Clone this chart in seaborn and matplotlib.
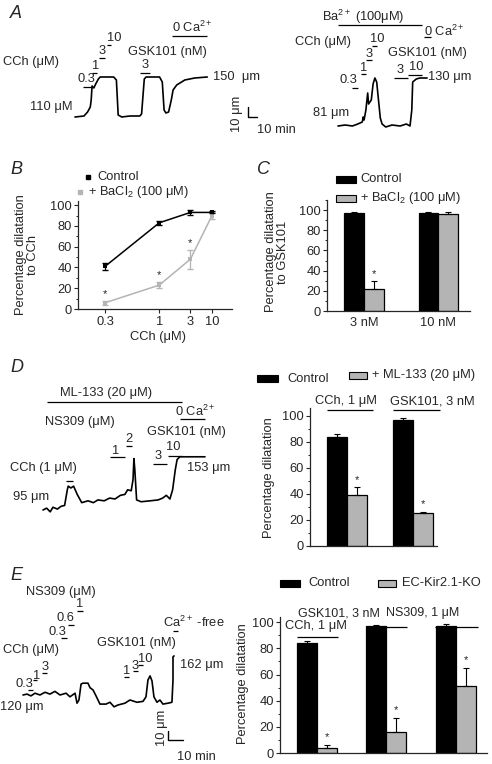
import numpy as np
import pandas as pd
import seaborn as sns
import matplotlib.pyplot as plt
from matplotlib.patches import Rectangle
from matplotlib.ticker import MultipleLocator, FixedLocator, NullLocator

# ---- diameter traces (time in min, diameter in um) ----
tA1 = [0, 10, 14, 17, 18, 19, 21, 23, 26, 28, 43, 46, 48, 52, 61, 72, 74, 77, 79, 94, 97, 99, 101, 104, 107, 109, 113, 122, 133, 147]
dA1 = [110, 111, 115, 120, 127, 141, 139, 143, 148, 150, 150, 147, 112, 110, 111, 111, 113, 148, 150, 150, 145, 117, 114, 115, 127, 137, 142, 147, 149, 150]

tA2 = [0, 8, 16, 22, 27, 28, 29, 31, 33, 34, 37, 39, 41, 43, 47, 49, 53, 60, 69, 76, 80, 82, 83, 87, 91, 99]
dA2 = [81, 82, 81, 83, 85, 90, 87, 97, 114, 103, 107, 123, 129, 125, 89, 83, 80, 82, 81, 83, 81, 97, 125, 128, 129, 129]

tD = [0, 4, 8, 11, 16, 20, 24, 27, 28, 31, 34, 38, 43, 50, 56, 61, 68, 74, 80, 86, 91, 94, 98, 100, 101, 102, 104, 109, 119, 128, 133, 137, 141, 144, 147, 149, 152, 180]
dD = [95, 97, 93, 98, 96, 99, 100, 117, 121, 119, 121, 112, 103, 105, 103, 106, 105, 108, 107, 111, 112, 117, 116, 128, 151, 139, 106, 104, 105, 106, 108, 111, 107, 117, 139, 150, 153, 153]

tE = [0, 2.7, 5.3, 8, 11.3, 14.7, 18, 21.3, 24.7, 28.7, 31.3, 34.7, 36, 37.3, 38.7, 40, 43.3, 44.7, 46.7, 48.7, 51.3, 55.3, 58, 60.7, 63.3, 68, 71.3, 76, 80, 82, 83.3, 84.7, 86, 87.3, 89.3, 91.3, 93.3, 96.7, 99.3, 100, 100, 100.7]
dE = [120, 121, 119, 122, 120, 123, 121, 124, 120, 122, 118, 122, 111, 114.5, 132, 133, 133, 128, 125.5, 119, 110, 110, 112, 107, 109, 111, 114.5, 112, 113, 118, 136.5, 141, 135.5, 118, 112, 114.5, 110, 111, 112, 136.5, 162, 163]

# ---- B: concentration-response ----
cch_conc = [0.3, 1, 3, 10]
b_ctrl = [41, 83, 93, 93]
b_ctrl_err = [3, 2, 2, 1]
b_ba = [6, 23, 48, 90]
b_ba_err = [2, 3, 9, 3]
b_star = [True, True, True, False]

# ---- C ----
c_groups = ["3 nM", "10 nM"]
c_ctrl = [97, 97]
c_ctrl_err = [1, 1]
c_ba = [22, 96]
c_ba_err = [8, 2]
c_star = [True, False]

# ---- D ----
d_groups = ["CCh, 1 μM", "GSK101, 3 nM"]
d_ctrl = [84, 97]
d_ctrl_err = [2, 1]
d_ml = [39, 25]
d_ml_err = [6, 1]
d_star = [True, True]

# ---- E ----
e_groups = ["CCh, 1 μM", "GSK101, 3 nM", "NS309, 1 μM"]
e_ctrl = [84, 97, 97]
e_ctrl_err = [2, 1, 2]
e_ko = [3.5, 16, 51]
e_ko_err = [3, 11, 14]
e_star = [True, True, True]

GREY = '#b4b4b4'
FS = 9.3

sns.set_style('ticks')
plt.rcParams['font.family'] = ['Liberation Sans', 'DejaVu Sans']
plt.rcParams['mathtext.fontset'] = 'custom'
plt.rcParams['mathtext.rm'] = 'Liberation Sans'
plt.rcParams['mathtext.it'] = 'Liberation Sans:italic'
plt.rcParams['font.size'] = FS

W, H = 492, 764
fig = plt.figure(figsize=(W / 100, H / 100), dpi=100)


def px_axes(x0, y0, x1, y1):
    return fig.add_axes([x0 / W, 1 - y1 / H, (x1 - x0) / W, (y1 - y0) / H])


# overlay in pixel units for labels / application bars
ov = fig.add_axes([0, 0, 1, 1])
ov.set_xlim(0, W)
ov.set_ylim(H, 0)
ov.axis('off')
ov.patch.set_alpha(0)


def txt(x, y, s, ha='left', **kw):
    ov.text(x, y, s, ha=ha, va='center', fontsize=kw.pop('fontsize', FS), **kw)


def bar(x0, x1, y, lw=0.9):
    ov.plot([x0, x1], [y, y], color='black', lw=lw, solid_capstyle='butt')


# panel letters
for s, x, y in [('A', 10, 13), ('B', 10, 169), ('C', 257, 169), ('D', 10, 368), ('E', 10, 575)]:
    txt(x, y, s, fontsize=13, style='italic')


# ---------------- traces ----------------
def trace_ax(box, xlim, ylim, t, d):
    ax = px_axes(*box)
    ax.plot(t, d, color='black', lw=1.2)
    ax.set_xlim(xlim)
    ax.set_ylim(ylim)
    ax.axis('off')
    ax.patch.set_alpha(0)
    return ax


axA1 = trace_ax((0, 0, 300, 170), (-83.3, 250), (57, 227), tA1, dA1)
axA1.plot([192.2, 192.2, 202.2], [120, 110, 110], color='black', lw=1)
axA2 = trace_ax((290, 0, 492, 170), (-53.3, 171.1), (37, 207), tA2, dA2)
axD = trace_ax((0, 380, 250, 560), (-47.8, 230), (40.5, 236.7), tD, dD)
axE = trace_ax((0, 560, 240, 764), (-15.33, 144.67), (44.1, 268.5), tE, dE)
axE.plot([96.7, 96.7, 106.7], [80.5, 70.5, 70.5], color='black', lw=1)

# A left labels
txt(3, 62, 'CCh (μM)')
txt(78, 79, '0.3')
txt(92, 66, '1')
txt(99, 51, '3')
txt(107, 38, '10')
txt(128, 52, 'GSK101 (nM)')
txt(142, 65, '3')
txt(172, 27, '0 Ca$^{2+}$')
txt(30, 107, '110 μM')
txt(213, 77, '150  μm')
for b in [(83, 92, 87), (92, 97, 73), (99, 105, 58), (107, 111, 45), (140, 150, 73), (172, 207, 36)]:
    bar(*b)
ov.text(237, 114, '10 μm', rotation=90, ha='center', va='center', fontsize=FS)
txt(257, 130, '10 min')

# A right labels
txt(363, 17, 'Ba$^{2+}$ (100μM)', ha='center')
bar(338, 422, 25)
txt(424, 31, '0 Ca$^{2+}$')
bar(424, 431, 37)
txt(295, 42, 'CCh (μM)')
txt(377, 39, '10', ha='center')
txt(369, 54, '3', ha='center')
txt(364, 68, '1', ha='center')
txt(340, 80, '0.3')
txt(388, 53, 'GSK101 (nM)')
txt(400, 70, '3', ha='center')
txt(416, 67, '10', ha='center')
txt(428, 77, '130 μm')
txt(313, 113, '81 μm')
for b in [(372, 377, 46), (366, 372, 60), (361, 366, 74), (352, 358, 88), (394, 408, 78), (408, 422, 75)]:
    bar(*b)

# D trace labels
txt(106, 393, 'ML-133 (20 μM)', ha='center')
bar(47, 182, 402)
txt(45, 422, 'NS309 (μM)')
txt(175, 411, '0 Ca$^{2+}$')
bar(180, 205, 419)
txt(147, 432, 'GSK101 (nM)')
txt(116, 451, '1', ha='center')
txt(129, 439, '2', ha='center')
txt(158, 456, '3', ha='center')
txt(173, 447, '10', ha='center')
for b in [(110, 125, 457), (126, 132, 446), (153, 167, 464), (168, 182, 456), (66, 73, 481)]:
    bar(*b)
txt(10, 468, 'CCh (1 μM)')
txt(13, 497, '95 μm')
txt(187, 468, '153 μm')

# E trace labels
txt(26, 592, 'NS309 (μM)')
txt(80, 604, '1', ha='center')
txt(65, 618, '0.6', ha='center')
txt(57, 632, '0.3', ha='center')
for b in [(77, 83, 611), (68, 74, 625), (61, 67, 638)]:
    bar(*b)
txt(3, 650, 'CCh (μM)')
txt(24, 684, '0.3', ha='center')
txt(37, 676, '1', ha='center')
txt(45, 667, '3', ha='center')
for b in [(28, 33, 690), (33, 37, 680), (42, 47, 673)]:
    bar(*b)
txt(97, 643, 'GSK101 (nM)')
txt(127, 671, '1', ha='center')
txt(135, 666, '3', ha='center')
txt(145, 659, '10', ha='center')
for b in [(124, 129, 677), (133, 138, 671), (138, 143, 665)]:
    bar(*b)
txt(163, 622, 'Ca$^{2+}$ -free')
bar(173, 178, 631)
txt(180, 665, '162 μm')
txt(0, 707, '120 μm')
ov.text(162, 728, '10 μm', rotation=90, ha='center', va='center', fontsize=FS)
txt(177, 757, '10 min')


# ---------------- axes styling ----------------
def style_ax(ax, ylim):
    sns.despine(ax=ax)
    ax.set_ylim(ylim)
    ax.set_yticks(range(0, 101, 20))
    ax.yaxis.set_minor_locator(MultipleLocator(10))
    ax.tick_params(axis='y', which='major', length=3, width=0.8, labelsize=FS, pad=1.5)
    ax.tick_params(axis='y', which='minor', length=1.6, width=0.7)
    for sp in ['left', 'bottom']:
        ax.spines[sp].set_linewidth(0.9)
    ax.set_xlabel('')
    ax.set_ylabel('')
    ax.patch.set_alpha(0)


def bar_panel(ax, groups, ctrl, ctrl_err, treat, treat_err, star, width, xlim):
    n = len(groups)
    df = pd.DataFrame({'group': groups * 2,
                       'cond': ['ctrl'] * n + ['treat'] * n,
                       'val': ctrl + treat})
    sns.barplot(data=df, x='group', y='val', hue='cond', palette={'ctrl': 'black', 'treat': GREY},
                edgecolor='black', linewidth=0.9, width=width, errorbar=None, legend=False,
                saturation=1, ax=ax)
    errs = ctrl_err + treat_err
    stars = [False] * n + star
    for p, e, s in zip(ax.patches, errs, stars):
        x = p.get_x() + p.get_width() / 2
        h = p.get_height()
        ax.errorbar(x, h, yerr=[[0], [e]], fmt='none', ecolor='black', elinewidth=0.8,
                    capsize=2, capthick=0.8, zorder=5)
        if s:
            ax.text(x, h + e + 2, '*', ha='center', va='bottom', fontsize=8)
    ax.set_xlim(xlim)


# B
axB = px_axes(78, 201, 232, 309)
axB.set_xscale('function', functions=(lambda x: -np.power(np.maximum(x, 1e-6), -0.4),
                                      lambda y: np.power(np.maximum(-y, 1e-6), -2.5)))
sns.lineplot(x=cch_conc, y=b_ba, color=GREY, marker='s', markersize=3, markeredgewidth=0, lw=1.1, ax=axB)
axB.errorbar(cch_conc, b_ba, yerr=b_ba_err, fmt='none', ecolor=GREY, elinewidth=0.9, capsize=2)
sns.lineplot(x=cch_conc, y=b_ctrl, color='black', marker='s', markersize=3, markeredgewidth=0, lw=1.1, ax=axB)
axB.errorbar(cch_conc, b_ctrl, yerr=b_ctrl_err, fmt='none', ecolor='black', elinewidth=0.9, capsize=2)
for x, m, e, s in zip(cch_conc, b_ba, b_ba_err, b_star):
    if s:
        axB.text(x, m + e + 2, '*', ha='center', va='bottom', fontsize=8)
style_ax(axB, (0, 104))
axB.set_xlim(0.194, 84)
axB.xaxis.set_major_locator(FixedLocator(cch_conc))
axB.xaxis.set_minor_locator(NullLocator())
axB.set_xticklabels(['0.3', '1', '3', '10'])
axB.tick_params(axis='x', length=3, width=0.8, labelsize=FS, pad=2)
ov.plot([88], [177], marker='s', ms=2.5, color='black')
txt(97, 177, 'Control')
ov.plot([80], [192], marker='s', ms=2.5, color=GREY)
txt(88, 192, '+ BaCl$_2$ (100 μM)')
txt(158, 337, 'CCh (μM)', ha='center')
ov.text(27, 255, 'Percentage dilatation\nto CCh', rotation=90, ha='center', va='center',
        multialignment='center', fontsize=FS, linespacing=1.1)

# C
axC = px_axes(327, 200, 470, 311)
bar_panel(axC, c_groups, c_ctrl, c_ctrl_err, c_ba, c_ba_err, c_star, 0.53, (-0.5, 1.43))
style_ax(axC, (0, 110))
axC.tick_params(axis='x', length=0, labelsize=FS, pad=4)
ov.text(277, 252, 'Percentage dilatation\nto GSK101', rotation=90, ha='center', va='center',
        multialignment='center', fontsize=FS, linespacing=1.1)
ov.add_patch(Rectangle((336, 176), 20, 7, facecolor='black', edgecolor='black', lw=0.8))
ov.add_patch(Rectangle((336, 195), 20, 7, facecolor=GREY, edgecolor='black', lw=0.8))
txt(360, 179, 'Control')
txt(360, 198, '+ BaCl$_2$ (100 μM)')

# D
axD2 = px_axes(310, 408, 437, 546)
bar_panel(axD2, d_groups, d_ctrl, d_ctrl_err, d_ml, d_ml_err, d_star, 0.6, (-0.56, 1.36))
style_ax(axD2, (0, 106))
axD2.set_xticks([])
ov.text(269, 478, 'Percentage dilatation', rotation=90, ha='center', va='center', fontsize=FS)
ov.add_patch(Rectangle((257, 375), 21, 7, facecolor='black', edgecolor='black', lw=0.8))
ov.add_patch(Rectangle((349, 372), 18, 7, facecolor=GREY, edgecolor='black', lw=0.8))
txt(287, 379, 'Control')
txt(372, 375, '+ ML-133 (20 μM)')
txt(315, 401, d_groups[0])
bar(327, 373, 410)
txt(390, 401, d_groups[1])
bar(393, 440, 410)

# E
axE2 = px_axes(280, 617, 487, 753)
bar_panel(axE2, e_groups, e_ctrl, e_ctrl_err, e_ko, e_ko_err, e_star, 0.58, (-0.53, 2.45))
style_ax(axE2, (0, 104))
axE2.set_xticks([])
ov.text(243, 684, 'Percentage dilatation', rotation=90, ha='center', va='center', fontsize=FS)
ov.add_patch(Rectangle((280, 580), 20, 7, facecolor='black', edgecolor='black', lw=0.8))
ov.add_patch(Rectangle((378, 580), 18, 7, facecolor=GREY, edgecolor='black', lw=0.8))
txt(308, 583, 'Control')
txt(402, 583, 'EC-Kir2.1-KO')
txt(285, 626, e_groups[0])
bar(297, 338, 637)
txt(298, 613, e_groups[1], fontsize=9.0)
bar(367, 407, 627)
txt(386, 613, e_groups[2], fontsize=9.0)
bar(435, 478, 627)

fig.savefig('out.png', dpi=100, facecolor='white')
